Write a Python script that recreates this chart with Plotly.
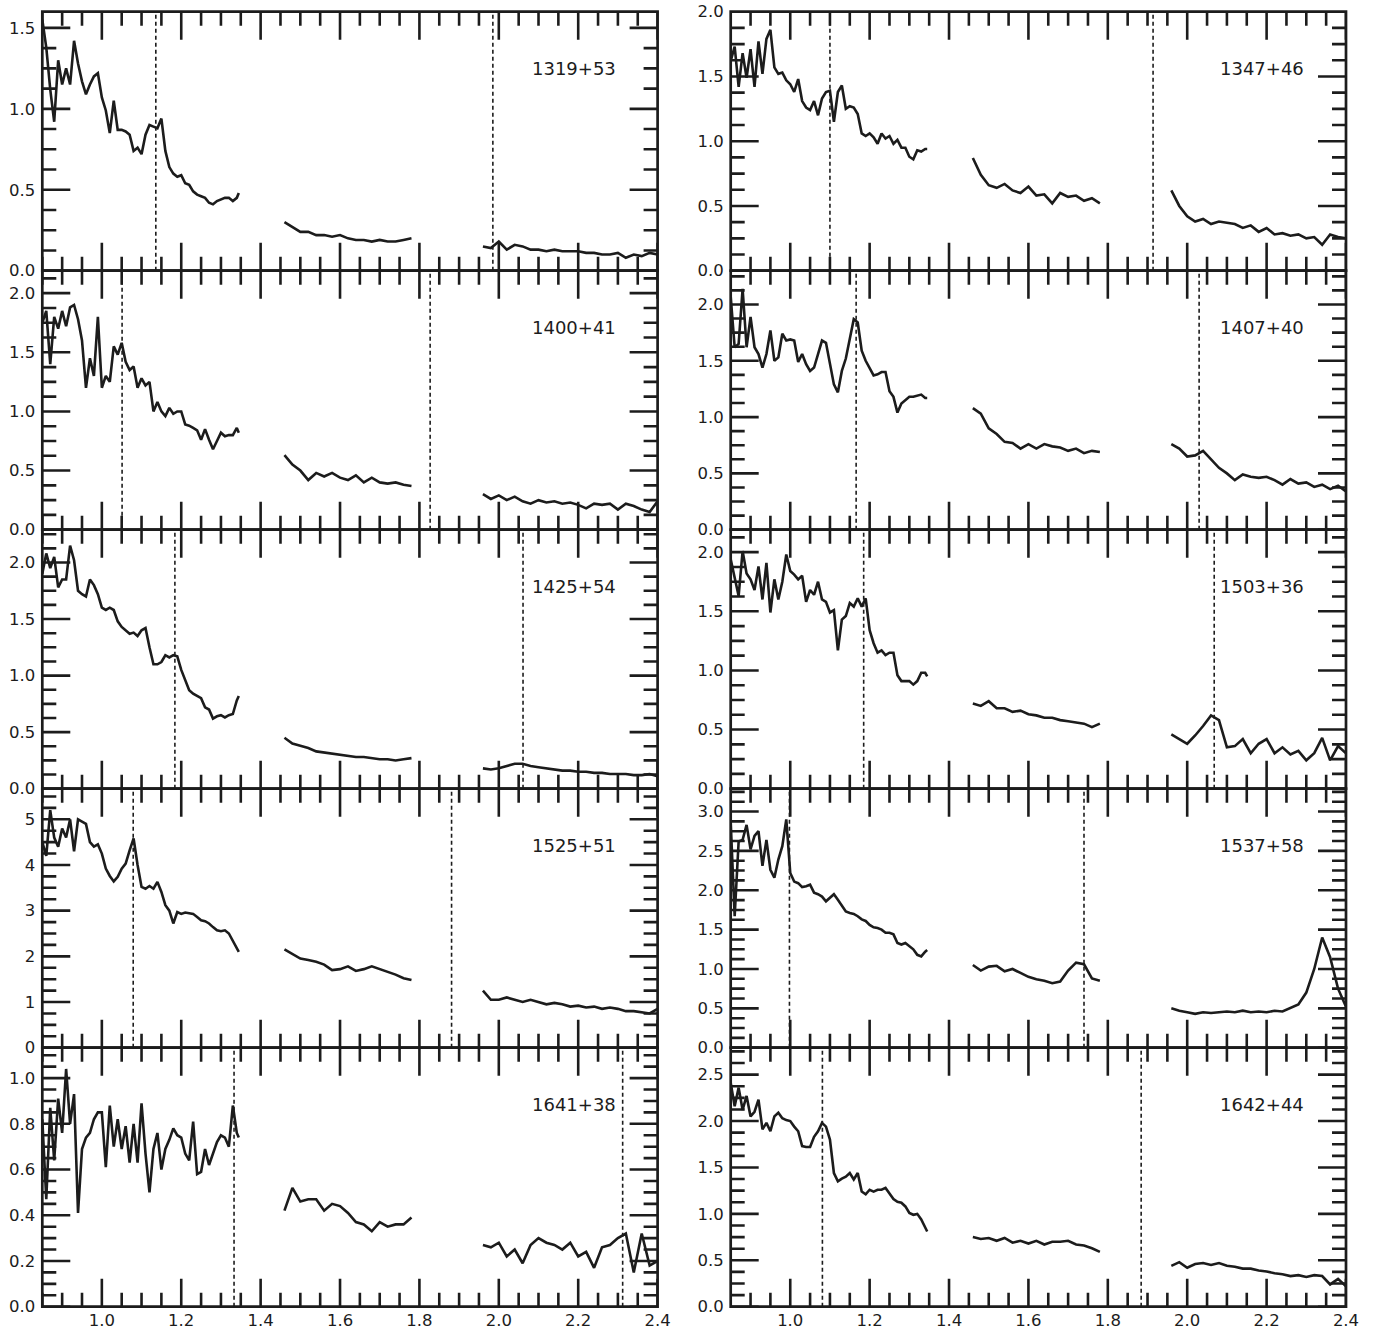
import plotly.graph_objects as go

W, H = 1375, 1333

# ---------------- data ----------------
J_WL = [0.85, 0.86, 0.87, 0.88, 0.89, 0.90, 0.91, 0.92, 0.93, 0.94,
        0.95, 0.96, 0.97, 0.98, 0.99, 1.00, 1.01, 1.02, 1.03, 1.04,
        1.05, 1.06, 1.07, 1.08, 1.09, 1.10, 1.11, 1.12, 1.13, 1.14,
        1.15, 1.16, 1.17, 1.18, 1.19, 1.20, 1.21, 1.22, 1.23, 1.24,
        1.25, 1.26, 1.27, 1.28, 1.29, 1.30, 1.31, 1.32, 1.33, 1.34, 1.345]
H_WL = [1.46, 1.48, 1.50, 1.52, 1.54, 1.56, 1.58, 1.60, 1.62, 1.64,
        1.66, 1.68, 1.70, 1.72, 1.74, 1.76, 1.78]
K_WL = [1.96, 1.98, 2.00, 2.02, 2.04, 2.06, 2.08, 2.10, 2.12, 2.14,
        2.16, 2.18, 2.20, 2.22, 2.24, 2.26, 2.28, 2.30, 2.32, 2.34,
        2.36, 2.38, 2.40]

NAMES = ["1319+53", "1347+46", "1400+41", "1407+40", "1425+54",
         "1503+36", "1525+51", "1537+58", "1641+38", "1642+44"]

J_FLUX = {
    "1319+53": [1.55, 1.38, 1.12, 0.92, 1.30, 1.15, 1.25, 1.15, 1.42, 1.28,
                1.17, 1.09, 1.15, 1.20, 1.22, 1.07, 0.99, 0.85, 1.05, 0.87,
                0.87, 0.86, 0.84, 0.74, 0.76, 0.72, 0.84, 0.90, 0.89, 0.88,
                0.94, 0.74, 0.64, 0.60, 0.58, 0.59, 0.54, 0.53, 0.49, 0.47,
                0.46, 0.45, 0.42, 0.41, 0.43, 0.44, 0.45, 0.45, 0.43, 0.45, 0.48],
    "1347+46": [1.62, 1.73, 1.42, 1.68, 1.49, 1.71, 1.42, 1.77, 1.52, 1.79,
                1.86, 1.57, 1.52, 1.53, 1.47, 1.44, 1.38, 1.48, 1.31, 1.26,
                1.24, 1.31, 1.20, 1.33, 1.38, 1.39, 1.15, 1.38, 1.43, 1.25,
                1.27, 1.26, 1.21, 1.06, 1.04, 1.06, 1.03, 0.98, 1.06, 1.02,
                1.04, 0.98, 1.01, 0.95, 0.95, 0.88, 0.86, 0.93, 0.92, 0.94, 0.94],
    "1400+41": [1.75, 1.85, 1.40, 1.80, 1.70, 1.85, 1.72, 1.88, 1.90, 1.78,
                1.60, 1.20, 1.45, 1.30, 1.80, 1.20, 1.30, 1.25, 1.55, 1.48,
                1.58, 1.42, 1.35, 1.38, 1.20, 1.28, 1.22, 1.25, 1.00, 1.08,
                1.00, 0.96, 1.03, 0.98, 1.00, 1.00, 0.89, 0.88, 0.86, 0.84,
                0.76, 0.85, 0.76, 0.68, 0.75, 0.82, 0.79, 0.80, 0.80, 0.86, 0.82],
    "1407+40": [2.07, 1.62, 1.65, 2.14, 1.62, 1.89, 1.62, 1.56, 1.44, 1.56,
                1.77, 1.50, 1.53, 1.74, 1.68, 1.69, 1.68, 1.49, 1.56, 1.47,
                1.41, 1.44, 1.56, 1.68, 1.66, 1.47, 1.29, 1.22, 1.41, 1.52,
                1.68, 1.87, 1.84, 1.59, 1.50, 1.44, 1.37, 1.38, 1.40, 1.40,
                1.23, 1.18, 1.04, 1.12, 1.15, 1.18, 1.18, 1.19, 1.20, 1.17, 1.17],
    "1425+54": [1.90, 2.08, 1.95, 2.05, 1.78, 1.85, 1.85, 2.15, 2.02, 1.75,
                1.72, 1.70, 1.85, 1.80, 1.72, 1.60, 1.58, 1.60, 1.58, 1.48,
                1.43, 1.40, 1.37, 1.38, 1.35, 1.40, 1.42, 1.25, 1.10, 1.10,
                1.12, 1.18, 1.16, 1.18, 1.17, 1.05, 0.95, 0.87, 0.84, 0.82,
                0.80, 0.72, 0.70, 0.62, 0.64, 0.65, 0.63, 0.65, 0.66, 0.78, 0.82],
    "1503+36": [1.94, 1.77, 1.63, 2.01, 1.82, 1.77, 1.68, 1.88, 1.60, 1.91,
                1.49, 1.77, 1.60, 1.75, 1.98, 1.84, 1.81, 1.77, 1.80, 1.58,
                1.68, 1.64, 1.75, 1.60, 1.58, 1.49, 1.51, 1.17, 1.43, 1.46,
                1.57, 1.54, 1.61, 1.54, 1.61, 1.34, 1.23, 1.15, 1.17, 1.13,
                1.15, 1.15, 0.96, 0.91, 0.91, 0.91, 0.88, 0.91, 0.98, 0.98, 0.95],
    "1525+51": [4.5, 4.2, 5.2, 4.6, 4.4, 4.8, 4.6, 5.0, 4.3, 5.0,
                4.95, 4.9, 4.5, 4.4, 4.45, 4.25, 3.92, 3.76, 3.64, 3.74,
                3.92, 4.03, 4.32, 4.58, 4.0, 3.52, 3.48, 3.54, 3.48, 3.63,
                3.41, 3.12, 3.0, 2.72, 2.97, 2.93, 2.96, 2.95, 2.93, 2.86,
                2.79, 2.77, 2.72, 2.64, 2.57, 2.55, 2.57, 2.50, 2.35, 2.17, 2.10],
    "1537+58": [2.86, 1.67, 2.62, 2.64, 2.83, 2.52, 2.69, 2.75, 2.31, 2.64,
                2.26, 2.16, 2.39, 2.56, 2.90, 2.22, 2.11, 2.09, 2.04, 2.05,
                2.07, 1.97, 1.95, 1.92, 1.86, 1.90, 1.95, 1.88, 1.80, 1.73,
                1.71, 1.70, 1.67, 1.63, 1.61, 1.56, 1.53, 1.52, 1.50, 1.46,
                1.46, 1.44, 1.33, 1.31, 1.33, 1.29, 1.25, 1.18, 1.16, 1.22, 1.24],
    "1641+38": [0.82, 0.47, 0.87, 0.64, 0.91, 0.76, 1.04, 0.80, 0.93, 0.41,
                0.69, 0.74, 0.76, 0.82, 0.85, 0.85, 0.61, 0.88, 0.70, 0.82,
                0.69, 0.79, 0.63, 0.80, 0.63, 0.89, 0.67, 0.50, 0.69, 0.76,
                0.60, 0.69, 0.73, 0.78, 0.75, 0.74, 0.67, 0.64, 0.81, 0.58,
                0.59, 0.69, 0.62, 0.67, 0.72, 0.75, 0.74, 0.70, 0.88, 0.76, 0.74],
    "1642+44": [2.41, 2.16, 2.36, 2.12, 2.27, 2.05, 2.10, 2.23, 1.91, 1.98,
                1.89, 2.05, 2.09, 2.03, 2.01, 2.00, 1.94, 1.89, 1.73, 1.72,
                1.72, 1.83, 1.89, 1.98, 1.94, 1.80, 1.44, 1.35, 1.38, 1.40,
                1.44, 1.37, 1.44, 1.24, 1.21, 1.26, 1.24, 1.26, 1.26, 1.28,
                1.22, 1.16, 1.13, 1.12, 1.08, 1.01, 0.99, 1.00, 0.94, 0.85, 0.81],
}

H_FLUX = {
    "1319+53": [0.30, 0.27, 0.24, 0.24, 0.22, 0.22, 0.21, 0.22, 0.20, 0.19,
                0.19, 0.18, 0.19, 0.18, 0.18, 0.19, 0.20],
    "1347+46": [0.87, 0.74, 0.66, 0.64, 0.67, 0.62, 0.60, 0.65, 0.58, 0.59,
                0.52, 0.60, 0.57, 0.58, 0.54, 0.56, 0.52],
    "1400+41": [0.63, 0.55, 0.50, 0.42, 0.48, 0.45, 0.48, 0.44, 0.42, 0.46,
                0.40, 0.44, 0.40, 0.39, 0.40, 0.38, 0.37],
    "1407+40": [1.08, 1.03, 0.90, 0.85, 0.78, 0.77, 0.72, 0.76, 0.72, 0.76,
                0.74, 0.73, 0.70, 0.72, 0.68, 0.70, 0.69],
    "1425+54": [0.45, 0.40, 0.38, 0.36, 0.33, 0.32, 0.31, 0.30, 0.29, 0.28,
                0.28, 0.27, 0.26, 0.26, 0.25, 0.26, 0.27],
    "1503+36": [0.72, 0.70, 0.74, 0.68, 0.68, 0.65, 0.66, 0.63, 0.62, 0.60,
                0.60, 0.58, 0.57, 0.56, 0.55, 0.52, 0.55],
    "1525+51": [2.15, 2.05, 1.95, 1.92, 1.88, 1.82, 1.70, 1.72, 1.78, 1.68,
                1.72, 1.78, 1.72, 1.65, 1.60, 1.52, 1.48],
    "1537+58": [1.05, 0.98, 1.03, 1.04, 0.97, 1.00, 0.95, 0.90, 0.87, 0.85,
                0.82, 0.84, 0.98, 1.08, 1.06, 0.88, 0.85],
    "1641+38": [0.42, 0.52, 0.46, 0.47, 0.47, 0.42, 0.45, 0.44, 0.41, 0.37,
                0.36, 0.33, 0.37, 0.35, 0.36, 0.36, 0.39],
    "1642+44": [0.75, 0.73, 0.74, 0.71, 0.74, 0.69, 0.71, 0.68, 0.71, 0.67,
                0.70, 0.70, 0.71, 0.67, 0.66, 0.63, 0.59],
}

K_FLUX = {
    "1319+53": [0.15, 0.14, 0.18, 0.13, 0.16, 0.15, 0.13, 0.13, 0.12, 0.13,
                0.12, 0.12, 0.12, 0.11, 0.11, 0.10, 0.10, 0.11, 0.08, 0.10,
                0.09, 0.11, 0.10],
    "1347+46": [0.62, 0.50, 0.42, 0.38, 0.40, 0.36, 0.38, 0.37, 0.36, 0.33,
                0.35, 0.30, 0.33, 0.28, 0.29, 0.27, 0.28, 0.25, 0.26, 0.20,
                0.28, 0.26, 0.25],
    "1400+41": [0.30, 0.26, 0.29, 0.25, 0.28, 0.24, 0.22, 0.25, 0.23, 0.24,
                0.22, 0.23, 0.21, 0.18, 0.22, 0.21, 0.22, 0.17, 0.22, 0.20,
                0.17, 0.15, 0.24],
    "1407+40": [0.76, 0.72, 0.65, 0.66, 0.70, 0.62, 0.55, 0.50, 0.44, 0.49,
                0.47, 0.46, 0.47, 0.44, 0.40, 0.45, 0.41, 0.42, 0.38, 0.40,
                0.36, 0.39, 0.34],
    "1425+54": [0.18, 0.17, 0.18, 0.20, 0.22, 0.22, 0.20, 0.19, 0.18, 0.17,
                0.16, 0.16, 0.15, 0.15, 0.14, 0.14, 0.13, 0.13, 0.13, 0.12,
                0.12, 0.13, 0.11],
    "1503+36": [0.46, 0.42, 0.38, 0.45, 0.53, 0.62, 0.58, 0.35, 0.36, 0.42,
                0.30, 0.38, 0.42, 0.30, 0.35, 0.29, 0.32, 0.24, 0.30, 0.43,
                0.24, 0.36, 0.30],
    "1525+51": [1.25, 1.05, 1.05, 1.10, 1.05, 1.00, 1.05, 1.00, 0.95, 0.98,
                0.95, 0.90, 0.92, 0.88, 0.90, 0.85, 0.88, 0.85, 0.80, 0.80,
                0.78, 0.75, 0.85],
    "1537+58": [0.50, 0.47, 0.45, 0.43, 0.45, 0.44, 0.45, 0.46, 0.45, 0.47,
                0.45, 0.46, 0.45, 0.47, 0.46, 0.50, 0.55, 0.70, 1.00, 1.40,
                1.15, 0.75, 0.52],
    "1641+38": [0.27, 0.26, 0.28, 0.22, 0.25, 0.19, 0.27, 0.30, 0.28, 0.27,
                0.25, 0.28, 0.22, 0.24, 0.17, 0.26, 0.27, 0.30, 0.32, 0.15,
                0.32, 0.18, 0.20],
    "1642+44": [0.44, 0.48, 0.42, 0.46, 0.47, 0.45, 0.47, 0.44, 0.43, 0.41,
                0.41, 0.39, 0.38, 0.36, 0.35, 0.33, 0.34, 0.32, 0.34, 0.33,
                0.24, 0.30, 0.22],
}

LINE_WL = {
    "1319+53": [1.136, 1.985], "1347+46": [1.100, 1.914],
    "1400+41": [1.051, 1.827], "1407+40": [1.166, 2.030],
    "1425+54": [1.184, 2.061], "1503+36": [1.185, 2.068],
    "1525+51": [1.079, 1.881], "1537+58": [0.998, 1.740],
    "1641+38": [1.333, 2.312], "1642+44": [1.081, 1.884],
}

Y_MAX = {"1319+53": 1.6, "1347+46": 2.0, "1400+41": 2.19, "1407+40": 2.30,
         "1425+54": 2.29, "1503+36": 2.19, "1525+51": 5.67, "1537+58": 3.29,
         "1641+38": 1.133, "1642+44": 2.79}
Y_STEP = {"1319+53": 0.5, "1347+46": 0.5, "1400+41": 0.5, "1407+40": 0.5,
          "1425+54": 0.5, "1503+36": 0.5, "1525+51": 1, "1537+58": 0.5,
          "1641+38": 0.2, "1642+44": 0.5}

X_RANGE = [0.85, 2.4]
X_STEP = 0.2
N_MINOR = 4          # minor intervals per major interval

# ---------------- layout ----------------
COLS = [(42.3, 657.6), (730.7, 1346.0)]
TOPS = [11.7, 270.7, 529.7, 788.7, 1047.7, 1306.7]
INK = "#1c1c1c"
FONT = "DejaVu Sans"
MAJ_LEN, MIN_LEN = 28, 14


def tick_values(lo, hi, step):
    sub = step / N_MINOR
    k0 = int(round(lo / sub - 0.5 + 1e-9)) if lo > 0 else 0
    vals = []
    k = int(-(-lo // sub))
    while k * sub <= hi + 1e-9:
        vals.append((k * sub, k % N_MINOR == 0))
        k += 1
    return vals


fig = go.Figure()
layout = dict(
    width=W, height=H, margin=dict(l=0, r=0, t=0, b=0),
    paper_bgcolor="white", plot_bgcolor="white", showlegend=False,
    template="none", font=dict(family=FONT, size=16.5, color=INK),
)
shapes, annotations = [], []

for i, name in enumerate(NAMES):
    row, col = divmod(i, 2)
    n = i + 1
    sfx = "" if n == 1 else str(n)
    xa, ya = "x" + sfx, "y" + sfx
    x0, x1 = COLS[col]
    top, bot = TOPS[row], TOPS[row + 1]
    pw, ph = x1 - x0, bot - top
    ymax = Y_MAX[name]
    step = Y_STEP[name]
    xspan = X_RANGE[1] - X_RANGE[0]

    # spectrum
    xs = J_WL + [None] + H_WL + [None] + K_WL
    ys = J_FLUX[name] + [None] + H_FLUX[name] + [None] + K_FLUX[name]
    fig.add_trace(go.Scatter(x=xs, y=ys, mode="lines", xaxis=xa, yaxis=ya,
                             line=dict(color=INK, width=2.6), connectgaps=False,
                             hoverinfo="skip"))

    # inward ticks on all four sides
    tx, ty = [], []
    for v, major in tick_values(X_RANGE[0], X_RANGE[1], X_STEP):
        h = (MAJ_LEN if major else MIN_LEN) / ph * ymax
        tx += [v, v, None, v, v, None]
        ty += [0, h, None, ymax, ymax - h, None]
    for v, major in tick_values(0, ymax, step):
        w = (MAJ_LEN if major else MIN_LEN) / pw * xspan
        tx += [X_RANGE[0], X_RANGE[0] + w, None, X_RANGE[1], X_RANGE[1] - w, None]
        ty += [v, v, None, v, v, None]
    fig.add_trace(go.Scatter(x=tx, y=ty, mode="lines", xaxis=xa, yaxis=ya,
                             line=dict(color=INK, width=2.6), hoverinfo="skip"))

    common = dict(showline=False, ticks="", showgrid=False, zeroline=False,
                  automargin=False, fixedrange=True,
                  tickfont=dict(family=FONT, size=16.5, color=INK))
    layout["xaxis" + sfx] = dict(
        domain=[x0 / W, x1 / W], anchor=ya, range=X_RANGE,
        tick0=0, dtick=X_STEP, tickformat=".1f",
        showticklabels=(row == 4), ticklabelstandoff=2, **common)
    layout["yaxis" + sfx] = dict(
        domain=[1 - bot / H, 1 - top / H], anchor=xa, range=[0, ymax],
        tick0=0, dtick=step, tickformat=(".0f" if step >= 1 else ".1f"),
        ticklabelstandoff=6, **common)

    shapes.append(dict(type="rect", xref=xa + " domain", yref=ya + " domain",
                       x0=0, x1=1, y0=0, y1=1, layer="above",
                       line=dict(color=INK, width=2.7)))
    for wl in LINE_WL[name]:
        shapes.append(dict(type="line", xref=xa, yref=ya + " domain",
                           x0=wl, x1=wl, y0=0, y1=1,
                           line=dict(color=INK, width=1.6, dash="4px,3px")))
    annotations.append(dict(text=name, xref="paper", yref="paper",
                            x=(x1 - 40) / W, y=1 - (top + 57) / H,
                            xanchor="right", yanchor="middle", showarrow=False,
                            font=dict(family=FONT, size=18, color=INK)))

layout["shapes"] = shapes
layout["annotations"] = annotations
fig.update_layout(**layout)
fig.write_html("out.html")
